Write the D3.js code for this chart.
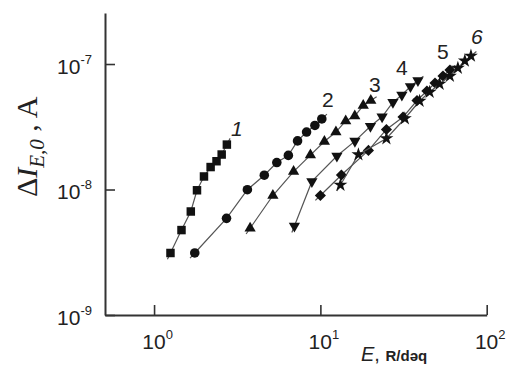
<!DOCTYPE html>
<html>
<head>
<meta charset="utf-8">
<script src="https://cdn.jsdelivr.net/npm/d3@7"></script>
<style>
    html, body { margin: 0; padding: 0; background: #fff; }
    svg { display: block; }
    .tick text { font-family: "Liberation Sans", Arial, sans-serif; fill: #222; }
</style>
</head>
<body>
<div id="plot"></div>
<script>
// curves 1..6, E in R/deq, current in A
const curveNames = ['1', '2', '3', '4', '5', '6'];

const E1 = [1.255, 1.462, 1.663, 1.812, 1.996, 2.188, 2.374, 2.55, 2.74];
const I1 = [3.12e-9, 4.75e-9, 6.68e-9, 9.86e-9, 1.27e-8, 1.51e-8, 1.68e-8, 1.90e-8, 2.28e-8];

const E2 = [1.757, 2.727, 3.64, 4.60, 5.47, 6.42, 7.29, 8.26, 9.27, 10.2];
const I2 = [3.12e-9, 5.89e-9, 9.96e-9, 1.30e-8, 1.64e-8, 1.87e-8, 2.44e-8, 2.87e-8, 3.24e-8, 3.65e-8];

const E3 = [3.78, 5.18, 6.90, 8.71, 10.57, 12.4, 14.2, 16.1, 18.1, 20.1];
const I3 = [4.91e-9, 8.96e-9, 1.39e-8, 1.88e-8, 2.41e-8, 2.87e-8, 3.52e-8, 3.85e-8, 4.67e-8, 5.12e-8];

const E4 = [6.98, 8.89, 12.57, 16.13, 20.0, 23.5, 27.3, 30.9, 34.8, 38.6];
const I4 = [5.12e-9, 1.16e-8, 1.85e-8, 2.43e-8, 3.19e-8, 3.80e-8, 4.96e-8, 5.66e-8, 6.62e-8, 7.39e-8];

const E5 = [10.0, 13.38, 19.45, 24.95, 31.4, 38.1, 43.7, 48.9, 54.6, 60.1];
const I5 = [8.96e-9, 1.305e-8, 2.05e-8, 3.01e-8, 3.78e-8, 5.12e-8, 6.09e-8, 7.06e-8, 8.02e-8, 8.96e-8];

const E6 = [13.2, 16.93, 24.95, 32.2, 39.5, 45.4, 52.1, 60.1, 67.1, 73.9, 80.4];
const I6 = [1.087e-8, 1.90e-8, 2.55e-8, 3.68e-8, 5.07e-8, 5.98e-8, 6.93e-8, 8.02e-8, 9.29e-8, 1.06e-7, 1.16e-7];

const xTicks = [1, 10, 100];
const xTickPowers = ['0', '1', '2'];
const yTicks = [1e-9, 1e-8, 1e-7];
const yTickPowers = ['-9', '-8', '-7'];

const width = 511;
const height = 376;

const x = d3.scaleLog().domain([0.507, 100]).range([105, 486.7]);
const y = d3.scaleLog().domain([1e-9, 2.55e-7]).range([315, 13]);

const svg = d3
    .select('#plot')
    .append('svg')
    .attr('width', width)
    .attr('height', height);

// axes
const xAxis = svg
    .append('g')
    .attr('transform', 'translate(0,' + y.range()[0] + ')')
    .call(d3.axisBottom(x).tickValues(xTicks).tickSizeInner(-10).tickSizeOuter(0).tickFormat(() => ''));

const yAxis = svg
    .append('g')
    .attr('transform', 'translate(' + x.range()[0] + ',0)')
    .call(d3.axisLeft(y).tickValues(yTicks).tickSizeInner(-10).tickSizeOuter(0).tickFormat(() => ''));

[xAxis, yAxis].forEach(function (ax) {
    ax.select('.domain').attr('stroke', '#333').attr('stroke-width', 2);
    ax.selectAll('.tick line').attr('stroke', '#333').attr('stroke-width', 1.6);
});

xAxis.selectAll('.tick text')
    .attr('y', 34)
    .attr('dy', 0)
    .attr('font-size', 21)
    .each(function (d, i) {
        const t = d3.select(this);
        t.append('tspan').text('10');
        t.append('tspan').attr('dy', -10).attr('font-size', 13).text(xTickPowers[i]);
    })
    .attr('dx', 3);

yAxis.selectAll('.tick text')
    .attr('x', -13)
    .attr('dy', 9)
    .attr('font-size', 21)
    .each(function (d, i) {
        const t = d3.select(this);
        t.append('tspan').text('10');
        t.append('tspan').attr('dy', -10).attr('font-size', 13).text(yTickPowers[i]);
    });

// axis titles
const xTitle = svg.append('text')
    .attr('x', 361)
    .attr('y', 361)
    .attr('fill', '#222')
    .attr('font-family', '"Liberation Sans", Arial, sans-serif');
xTitle.append('tspan').attr('font-size', 20).attr('font-style', 'italic').text('E');
xTitle.append('tspan').attr('font-size', 20).text(', ');
xTitle.append('tspan').attr('font-size', 15).attr('font-weight', 'bold').text('R/dəq');

const yTitle = svg.append('text')
    .attr('transform', 'translate(37,197) rotate(-90)')
    .attr('fill', '#222')
    .attr('font-family', '"Liberation Serif", "Times New Roman", serif')
    .attr('font-size', 30);
yTitle.append('tspan').text('Δ');
yTitle.append('tspan').attr('font-style', 'italic').text('I');
yTitle.append('tspan').attr('font-style', 'italic').attr('font-size', 21).attr('dy', 7).text('E,0');
yTitle.append('tspan').attr('dy', -7).text(' , A');

// series
const series = [
    { E: E1, I: I1, symbol: d3.symbolSquare, size: 72, rotate: 0, label: [10, -16], italic: true },
    { E: E2, I: I2, symbol: d3.symbolCircle, size: 72, rotate: 0, label: [6, -19], italic: false },
    { E: E3, I: I3, symbol: d3.symbolTriangle, size: 55, rotate: 0, label: [4, -16], italic: false },
    { E: E4, I: I4, symbol: d3.symbolTriangle, size: 55, rotate: 180, label: [-16, -13], italic: false },
    { E: E5, I: I5, symbol: d3.symbolSquare, size: 62, rotate: 45, label: [-7, -18], italic: false },
    { E: E6, I: I6, symbol: d3.symbolStar, size: 60, rotate: 0, label: [6, -19], italic: true }
];

const ext = 7;
function extended(pts) {
    // push the ends of the line a little past the first and last marker
    const out = pts.slice();
    const n = pts.length;
    const a = pts[0], b = pts[1];
    const c = pts[n - 2], d = pts[n - 1];
    const la = Math.hypot(b[0] - a[0], b[1] - a[1]);
    const ld = Math.hypot(d[0] - c[0], d[1] - c[1]);
    out.unshift([a[0] - (b[0] - a[0]) / la * ext, a[1] - (b[1] - a[1]) / la * ext]);
    out.push([d[0] + (d[0] - c[0]) / ld * ext, d[1] + (d[1] - c[1]) / ld * ext]);
    return out;
}

const line = d3.line();

series.forEach(function (s, k) {
    const pts = s.E.map((e, i) => [x(e), y(s.I[i])]);
    svg.append('path')
        .attr('d', line(extended(pts)))
        .attr('fill', 'none')
        .attr('stroke', '#555')
        .attr('stroke-width', 1.2);

    svg.append('g')
        .selectAll('path')
        .data(pts)
        .enter()
        .append('path')
        .attr('d', d3.symbol().type(s.symbol).size(s.size))
        .attr('transform', p => 'translate(' + p[0] + ',' + p[1] + ') rotate(' + s.rotate + ')')
        .attr('fill', '#111');

    const last = pts[pts.length - 1];
    svg.append('text')
        .attr('x', last[0] + s.label[0])
        .attr('y', last[1] + s.label[1] + 7)
        .attr('text-anchor', 'middle')
        .attr('font-family', '"Liberation Sans", Arial, sans-serif')
        .attr('font-size', 21)
        .attr('font-style', s.italic ? 'italic' : 'normal')
        .attr('fill', '#222')
        .text(curveNames[k]);
});
</script>
</body>
</html>
